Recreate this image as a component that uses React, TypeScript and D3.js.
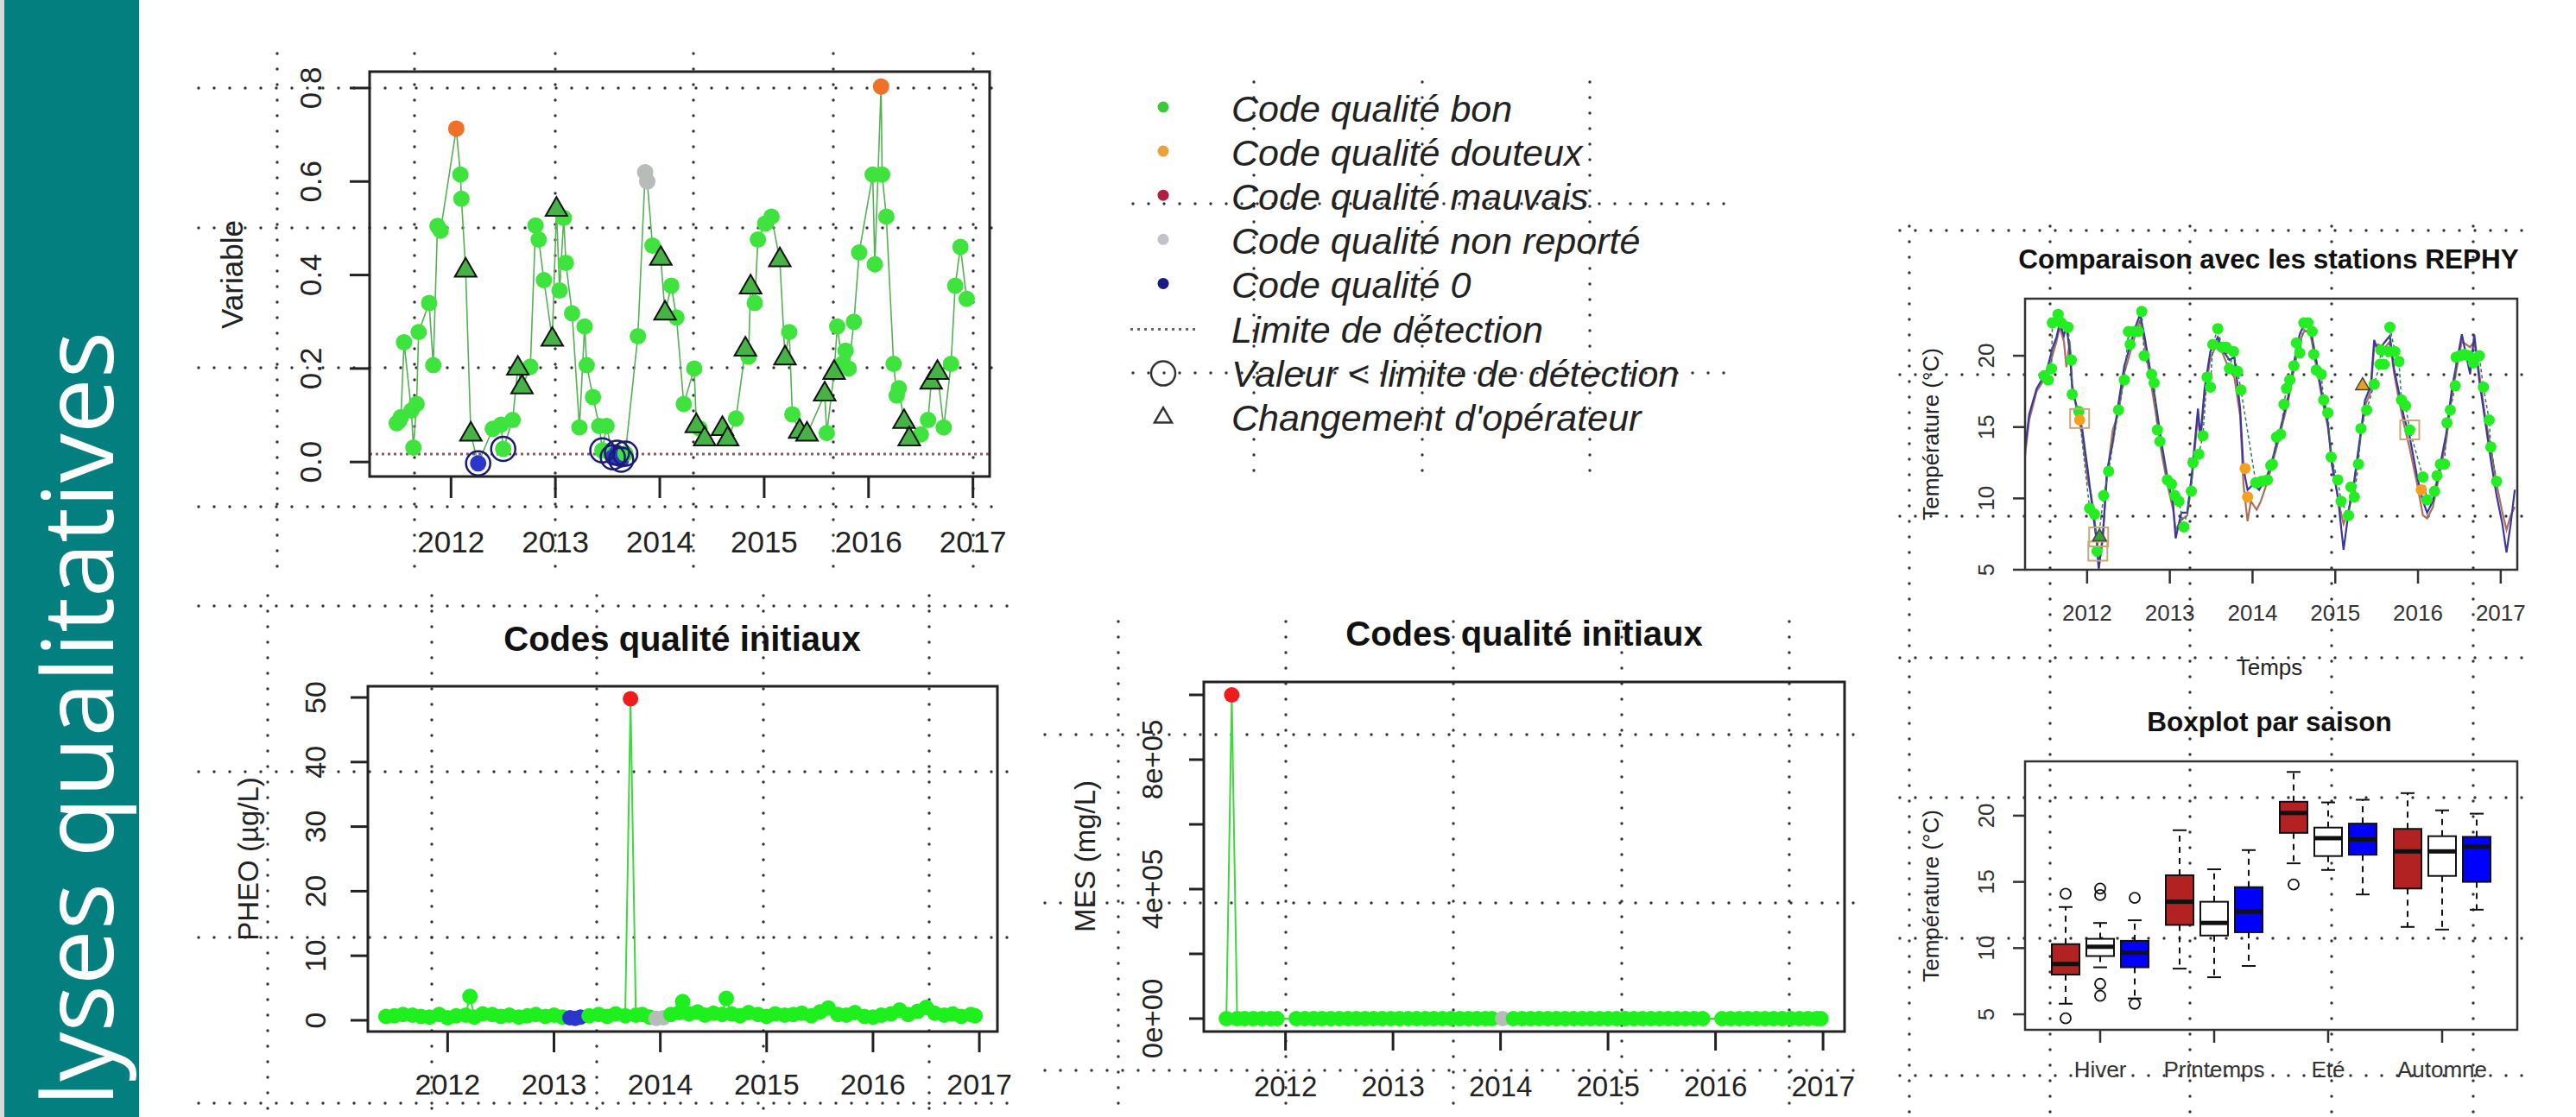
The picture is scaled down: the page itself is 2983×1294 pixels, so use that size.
import React from 'react';
import * as d3 from 'd3';

const FONT = '"Liberation Sans", Arial, Helvetica, sans-serif';
const INK = '#222';

// couleurs des codes qualité
const codeColors: Record<string, string> = {
  bon: '#3ee33e',
  douteux: '#f07028',
  mauvais: '#ee1c1c',
  nonrep: '#b8bcb8',
  zero: '#2a36cc',
};

const yearTicks = [2012, 2013, 2014, 2015, 2016, 2017];

// ---------- Variable (haut gauche) ----------
const varTicks = [0, 0.2, 0.4, 0.6, 0.8];
const detectionLimit = 0.017;
// [année, valeur, code, marqueur]  marqueur: '' | 'tri' (changement d'opérateur) | 'lim' (< limite)
const varPoints: [number, number, string, string][] = [
  [2011.48, 0.083, 'bon', ''], [2011.5, 0.087, 'bon', ''], [2011.52, 0.096, 'bon', ''],
  [2011.55, 0.256, 'bon', ''], [2011.62, 0.11, 'bon', ''], [2011.64, 0.031, 'bon', ''],
  [2011.67, 0.124, 'bon', ''], [2011.69, 0.278, 'bon', ''], [2011.79, 0.34, 'bon', ''],
  [2011.83, 0.207, 'bon', ''], [2011.87, 0.505, 'bon', ''], [2011.9, 0.495, 'bon', ''],
  [2012.05, 0.713, 'douteux', ''], [2012.09, 0.615, 'bon', ''], [2012.1, 0.563, 'bon', ''],
  [2012.14, 0.41, 'bon', 'tri'], [2012.19, 0.059, 'bon', 'tri'], [2012.26, -0.003, 'zero', 'lim'],
  [2012.4, 0.071, 'bon', ''], [2012.48, 0.08, 'bon', ''], [2012.5, 0.028, 'bon', 'lim'],
  [2012.59, 0.09, 'bon', ''], [2012.64, 0.2, 'bon', 'tri'], [2012.68, 0.16, 'bon', 'tri'],
  [2012.76, 0.204, 'bon', ''], [2012.81, 0.506, 'bon', ''], [2012.84, 0.476, 'bon', ''],
  [2012.89, 0.389, 'bon', ''], [2012.97, 0.262, 'bon', 'tri'], [2013.01, 0.54, 'bon', 'tri'],
  [2013.04, 0.367, 'bon', ''], [2013.08, 0.522, 'bon', ''], [2013.1, 0.426, 'bon', ''],
  [2013.16, 0.318, 'bon', ''], [2013.23, 0.074, 'bon', ''], [2013.28, 0.29, 'bon', ''],
  [2013.3, 0.207, 'bon', ''], [2013.36, 0.139, 'bon', ''], [2013.42, 0.077, 'bon', ''],
  [2013.45, 0.025, 'bon', 'lim'], [2013.49, 0.077, 'bon', ''], [2013.55, 0.01, 'zero', 'lim'],
  [2013.59, 0.02, 'zero', 'lim'], [2013.63, 0.005, 'zero', 'lim'], [2013.67, 0.018, 'bon', 'lim'],
  [2013.79, 0.269, 'bon', ''], [2013.86, 0.62, 'nonrep', ''], [2013.88, 0.6, 'nonrep', ''],
  [2013.93, 0.463, 'bon', ''], [2014.01, 0.435, 'bon', 'tri'], [2014.05, 0.318, 'bon', 'tri'],
  [2014.11, 0.377, 'bon', ''], [2014.16, 0.309, 'bon', ''], [2014.23, 0.124, 'bon', ''],
  [2014.33, 0.2, 'bon', ''], [2014.35, 0.077, 'bon', 'tri'], [2014.38, 0.072, 'bon', ''],
  [2014.43, 0.049, 'bon', 'tri'], [2014.6, 0.071, 'bon', 'tri'], [2014.65, 0.049, 'bon', 'tri'],
  [2014.73, 0.093, 'bon', ''], [2014.82, 0.241, 'bon', 'tri'], [2014.85, 0.225, 'bon', ''],
  [2014.87, 0.374, 'bon', 'tri'], [2014.91, 0.34, 'bon', ''], [2014.94, 0.476, 'bon', ''],
  [2015.01, 0.51, 'bon', ''], [2015.07, 0.525, 'bon', ''], [2015.15, 0.432, 'bon', 'tri'],
  [2015.2, 0.222, 'bon', 'tri'], [2015.24, 0.278, 'bon', ''], [2015.27, 0.102, 'bon', ''],
  [2015.34, 0.065, 'bon', 'tri'], [2015.41, 0.059, 'bon', 'tri'], [2015.58, 0.145, 'bon', 'tri'],
  [2015.6, 0.062, 'bon', ''], [2015.67, 0.191, 'bon', 'tri'], [2015.7, 0.29, 'bon', ''],
  [2015.75, 0.21, 'bon', ''], [2015.78, 0.238, 'bon', ''], [2015.81, 0.2, 'bon', ''],
  [2015.86, 0.3, 'bon', ''], [2015.91, 0.448, 'bon', ''], [2016.04, 0.615, 'bon', ''],
  [2016.06, 0.423, 'bon', ''], [2016.12, 0.803, 'douteux', ''], [2016.13, 0.615, 'bon', ''],
  [2016.17, 0.525, 'bon', ''], [2016.24, 0.21, 'bon', ''], [2016.27, 0.142, 'bon', ''],
  [2016.29, 0.158, 'bon', ''], [2016.34, 0.086, 'bon', 'tri'], [2016.39, 0.049, 'bon', 'tri'],
  [2016.5, 0.059, 'bon', ''], [2016.57, 0.09, 'bon', ''], [2016.6, 0.17, 'bon', 'tri'],
  [2016.66, 0.191, 'bon', 'tri'], [2016.72, 0.074, 'bon', ''], [2016.79, 0.21, 'bon', ''],
  [2016.83, 0.377, 'bon', ''], [2016.88, 0.46, 'bon', ''], [2016.94, 0.349, 'bon', ''],
];

// ---------- Légende ----------
const legendLabels = [
  'Code qualité bon',
  'Code qualité douteux',
  'Code qualité mauvais',
  'Code qualité non reporté',
  'Code qualité 0',
  'Limite de détection',
  'Valeur < limite de détection',
  "Changement d'opérateur",
];
const legendColors = ['#3cc83c', '#e8a23a', '#b22040', '#c4c0cc', '#1a1a80'];

// ---------- PHEO ----------
const pheoTicks = [0, 10, 20, 30, 40, 50];
const pheoPoints: [number, number, string][] = [
  [2011.42, 0.6, 'bon'], [2011.5, 0.7, 'bon'], [2011.58, 0.9, 'bon'], [2011.67, 0.8, 'bon'],
  [2011.75, 0.6, 'bon'], [2011.83, 0.5, 'bon'], [2011.92, 0.9, 'bon'], [2012.0, 0.4, 'bon'],
  [2012.08, 0.7, 'bon'], [2012.17, 0.8, 'bon'], [2012.21, 3.7, 'bon'], [2012.25, 0.5, 'bon'],
  [2012.33, 1.0, 'bon'], [2012.42, 0.9, 'bon'], [2012.5, 0.6, 'bon'], [2012.58, 0.8, 'bon'],
  [2012.67, 0.5, 'bon'], [2012.75, 0.7, 'bon'], [2012.83, 0.9, 'bon'], [2012.92, 0.6, 'bon'],
  [2013.0, 0.8, 'bon'], [2013.08, 0.5, 'bon'], [2013.15, 0.4, 'zero'], [2013.2, 0.3, 'zero'],
  [2013.25, 0.5, 'zero'], [2013.33, 0.7, 'bon'], [2013.42, 0.9, 'bon'], [2013.5, 0.6, 'bon'],
  [2013.58, 1.0, 'bon'], [2013.67, 0.7, 'bon'], [2013.72, 49.8, 'mauvais'], [2013.77, 0.8, 'bon'],
  [2013.83, 0.9, 'bon'], [2013.9, 0.5, 'bon'], [2013.96, 0.3, 'nonrep'], [2014.03, 0.4, 'nonrep'],
  [2014.1, 0.9, 'bon'], [2014.18, 1.2, 'bon'], [2014.21, 2.9, 'bon'], [2014.27, 1.0, 'bon'],
  [2014.35, 1.3, 'bon'], [2014.42, 0.8, 'bon'], [2014.5, 1.1, 'bon'], [2014.58, 0.9, 'bon'],
  [2014.62, 3.4, 'bon'], [2014.67, 1.0, 'bon'], [2014.75, 0.7, 'bon'], [2014.83, 1.2, 'bon'],
  [2014.92, 0.9, 'bon'], [2015.0, 0.6, 'bon'], [2015.08, 1.0, 'bon'], [2015.17, 0.8, 'bon'],
  [2015.25, 0.9, 'bon'], [2015.33, 1.1, 'bon'], [2015.42, 0.7, 'bon'], [2015.5, 1.3, 'bon'],
  [2015.58, 1.9, 'bon'], [2015.67, 0.9, 'bon'], [2015.75, 0.8, 'bon'], [2015.83, 1.2, 'bon'],
  [2015.92, 0.6, 'bon'], [2016.0, 0.5, 'bon'], [2016.08, 0.8, 'bon'], [2016.17, 1.0, 'bon'],
  [2016.25, 1.6, 'bon'], [2016.33, 0.9, 'bon'], [2016.42, 1.4, 'bon'], [2016.5, 2.0, 'bon'],
  [2016.58, 1.1, 'bon'], [2016.67, 0.8, 'bon'], [2016.75, 1.0, 'bon'], [2016.83, 0.6, 'bon'],
  [2016.92, 0.9, 'bon'], [2016.96, 0.7, 'bon'],
];

// ---------- MES ----------
const mesTicks = [0, 200000, 400000, 600000, 800000, 1000000];
const mesTickLabels = ['0e+00', '', '4e+05', '', '8e+05', ''];
const mesPoints: [number, number, string][] = [
  [2011.45, 18, 'bon'], [2011.5, 1000000, 'mauvais'], [2011.55, 22, 'bon'], [2011.62, 15, 'bon'],
  [2011.7, 30, 'bon'], [2011.78, 12, 'bon'], [2011.86, 25, 'bon'], [2011.92, 9, 'bon'],
  [2012.1, 14, 'bon'], [2012.18, 20, 'bon'], [2012.26, 11, 'bon'], [2012.34, 35, 'bon'],
  [2012.42, 16, 'bon'], [2012.5, 8, 'bon'], [2012.58, 21, 'bon'], [2012.66, 13, 'bon'],
  [2012.74, 27, 'bon'], [2012.82, 10, 'bon'], [2012.9, 19, 'bon'], [2012.98, 24, 'bon'],
  [2013.06, 12, 'bon'], [2013.14, 17, 'bon'], [2013.22, 9, 'bon'], [2013.3, 28, 'bon'],
  [2013.38, 15, 'bon'], [2013.46, 22, 'bon'], [2013.54, 11, 'bon'], [2013.62, 18, 'bon'],
  [2013.7, 26, 'bon'], [2013.78, 14, 'bon'], [2013.86, 20, 'bon'], [2013.92, 10, 'bon'],
  [2014.02, 12, 'nonrep'], [2014.12, 16, 'bon'], [2014.2, 23, 'bon'], [2014.28, 11, 'bon'],
  [2014.36, 19, 'bon'], [2014.44, 30, 'bon'], [2014.52, 13, 'bon'], [2014.6, 8, 'bon'],
  [2014.68, 21, 'bon'], [2014.76, 17, 'bon'], [2014.84, 12, 'bon'], [2014.92, 25, 'bon'],
  [2015.0, 14, 'bon'], [2015.08, 9, 'bon'], [2015.16, 18, 'bon'], [2015.24, 22, 'bon'],
  [2015.32, 11, 'bon'], [2015.4, 16, 'bon'], [2015.48, 27, 'bon'], [2015.56, 13, 'bon'],
  [2015.64, 20, 'bon'], [2015.72, 10, 'bon'], [2015.8, 24, 'bon'], [2015.88, 15, 'bon'],
  [2016.06, 12, 'bon'], [2016.14, 19, 'bon'], [2016.22, 8, 'bon'], [2016.3, 23, 'bon'],
  [2016.38, 14, 'bon'], [2016.46, 17, 'bon'], [2016.54, 29, 'bon'], [2016.62, 11, 'bon'],
  [2016.7, 20, 'bon'], [2016.78, 13, 'bon'], [2016.86, 18, 'bon'], [2016.94, 10, 'bon'],
  [2016.98, 16, 'bon'],
];

// ---------- Comparaison REPHY ----------
const tempTicks = [5, 10, 15, 20];
const rephyBlue: [number, number][] = [
  [2011.25, 13.5], [2011.3, 15.9], [2011.39, 17.7], [2011.51, 18.9], [2011.58, 20.5], [2011.63, 21.3],
  [2011.67, 22.3], [2011.72, 21.4], [2011.75, 22.1], [2011.79, 20.3], [2011.82, 17.7], [2011.88, 16.3],
  [2011.94, 14.9], [2012.01, 11.9], [2012.07, 9.0], [2012.12, 6.8], [2012.14, 5.1], [2012.19, 7.2],
  [2012.24, 11.9], [2012.31, 13.9], [2012.38, 16.7], [2012.45, 19.3], [2012.52, 20.7], [2012.59, 22.1],
  [2012.64, 22.9], [2012.69, 21.5], [2012.76, 19.1], [2012.83, 16.7], [2012.9, 13.9], [2012.97, 11.5],
  [2013.04, 9.6], [2013.07, 7.2], [2013.14, 9.0], [2013.21, 9.0], [2013.27, 11.9], [2013.34, 16.3],
  [2013.37, 14.3], [2013.42, 17.7], [2013.49, 20.3], [2013.58, 21.3], [2013.65, 20.3], [2013.72, 19.7],
  [2013.78, 19.9], [2013.85, 16.3], [2013.89, 12.1], [2013.94, 10.6], [2014.01, 11.0], [2014.08, 10.6],
  [2014.17, 11.5], [2014.22, 12.3], [2014.32, 14.5], [2014.43, 17.1], [2014.5, 19.5], [2014.57, 21.5],
  [2014.63, 22.3], [2014.7, 21.9], [2014.77, 19.7], [2014.84, 17.3], [2014.91, 15.3], [2014.96, 12.3],
  [2015.03, 10.2], [2015.1, 6.4], [2015.16, 9.0], [2015.23, 11.3], [2015.3, 14.3], [2015.36, 16.9],
  [2015.43, 17.9], [2015.47, 21.1], [2015.52, 20.3], [2015.59, 20.9], [2015.66, 21.4], [2015.71, 19.1],
  [2015.76, 17.7], [2015.83, 15.7], [2015.9, 14.3], [2015.99, 11.5], [2016.06, 9.8], [2016.11, 9.0],
  [2016.18, 9.8], [2016.25, 11.8], [2016.34, 14.5], [2016.41, 17.7], [2016.48, 19.9], [2016.53, 21.5],
  [2016.58, 20.1], [2016.63, 18.7], [2016.68, 21.5], [2016.74, 18.3], [2016.81, 15.5], [2016.88, 12.7],
  [2016.95, 10.2], [2017.02, 8.2], [2017.07, 6.2], [2017.12, 8.2], [2017.17, 10.6],
];
const rephyBrown: [number, number][] = [
  [2011.25, 13.0], [2011.3, 15.5], [2011.39, 17.5], [2011.51, 18.6], [2011.58, 20.0], [2011.63, 21.0],
  [2011.67, 22.0], [2011.72, 21.0], [2011.75, 19.2], [2011.79, 21.0], [2011.82, 18.0], [2011.88, 16.0],
  [2011.94, 14.5], [2012.01, 11.2], [2012.04, 10.5], [2012.07, 9.5], [2012.12, 7.0], [2012.14, 5.0],
  [2012.19, 7.5], [2012.24, 11.5], [2012.31, 14.8], [2012.38, 16.0], [2012.45, 18.8], [2012.52, 20.2],
  [2012.59, 21.6], [2012.64, 22.5], [2012.69, 21.0], [2012.76, 18.5], [2012.83, 16.0], [2012.9, 13.2],
  [2012.97, 11.0], [2013.04, 9.2], [2013.07, 7.8], [2013.14, 8.5], [2013.21, 8.8], [2013.27, 11.5],
  [2013.34, 15.8], [2013.37, 14.0], [2013.42, 17.2], [2013.49, 19.8], [2013.58, 21.0], [2013.65, 20.0],
  [2013.72, 19.0], [2013.78, 18.5], [2013.85, 15.8], [2013.89, 11.0], [2013.94, 8.4], [2013.98, 9.8],
  [2014.05, 9.2], [2014.1, 9.8], [2014.17, 11.0], [2014.22, 12.0], [2014.32, 14.2], [2014.43, 16.8],
  [2014.5, 19.0], [2014.57, 21.0], [2014.63, 21.8], [2014.7, 21.5], [2014.77, 19.3], [2014.84, 17.0],
  [2014.91, 15.0], [2014.96, 12.8], [2015.03, 10.0], [2015.1, 8.2], [2015.16, 9.2], [2015.23, 11.0],
  [2015.3, 14.0], [2015.36, 16.5], [2015.43, 17.5], [2015.47, 20.6], [2015.52, 20.8], [2015.59, 20.5],
  [2015.66, 21.0], [2015.71, 18.8], [2015.76, 17.2], [2015.83, 15.2], [2015.9, 13.5], [2015.99, 11.0],
  [2016.06, 8.8], [2016.11, 8.6], [2016.18, 9.4], [2016.25, 11.4], [2016.34, 14.0], [2016.41, 17.2],
  [2016.48, 19.5], [2016.53, 21.0], [2016.58, 20.8], [2016.63, 20.6], [2016.68, 21.0], [2016.74, 18.8],
  [2016.81, 15.8], [2016.88, 13.5], [2016.95, 11.0], [2017.02, 9.0], [2017.07, 7.8], [2017.12, 8.8],
  [2017.17, 9.4],
];
const stationGood: [number, number][] = [
  [2011.48, 18.6], [2011.53, 18.3], [2011.57, 19.1], [2011.58, 22.3], [2011.65, 22.9], [2011.69, 22.3],
  [2011.77, 22.0], [2011.81, 19.7], [2011.82, 17.3], [2011.9, 16.1], [2012.03, 9.3], [2012.09, 8.9],
  [2012.12, 6.3], [2012.2, 10.2], [2012.26, 11.9], [2012.38, 16.2], [2012.45, 18.3], [2012.5, 21.7],
  [2012.52, 20.8], [2012.57, 21.7], [2012.62, 21.7], [2012.66, 23.1], [2012.69, 20.0], [2012.78, 18.7],
  [2012.81, 18.1], [2012.85, 14.8], [2012.88, 14.0], [2012.97, 11.3], [2013.02, 11.0], [2013.06, 10.2],
  [2013.11, 9.8], [2013.17, 8.0], [2013.26, 10.5], [2013.28, 12.5], [2013.35, 13.1], [2013.4, 14.4],
  [2013.45, 18.5], [2013.49, 17.8], [2013.52, 20.8], [2013.58, 21.9], [2013.63, 20.6], [2013.68, 20.6],
  [2013.72, 19.1], [2013.77, 20.3], [2013.82, 18.9], [2013.86, 17.6], [2014.04, 11.1], [2014.11, 11.2],
  [2014.18, 11.3], [2014.22, 12.3], [2014.24, 12.4], [2014.29, 14.3], [2014.34, 14.5], [2014.38, 16.6],
  [2014.41, 17.7], [2014.45, 18.3], [2014.5, 19.3], [2014.53, 20.9], [2014.57, 20.2], [2014.62, 22.3],
  [2014.67, 22.3], [2014.72, 21.7], [2014.74, 20.1], [2014.77, 19.0], [2014.83, 18.7], [2014.86, 16.9],
  [2014.91, 16.0], [2014.95, 12.9], [2015.03, 11.3], [2015.07, 9.8], [2015.16, 8.8], [2015.19, 10.8],
  [2015.23, 10.1], [2015.28, 12.4], [2015.31, 14.9], [2015.38, 16.2], [2015.47, 18.0], [2015.54, 19.4],
  [2015.55, 20.4], [2015.59, 19.4], [2015.65, 20.3], [2015.66, 22.0], [2015.72, 20.3], [2015.77, 19.6],
  [2015.8, 16.9], [2015.85, 16.5], [2015.9, 14.8], [2016.06, 11.5], [2016.11, 9.9], [2016.2, 10.5],
  [2016.23, 11.6], [2016.27, 12.4], [2016.32, 12.4], [2016.35, 15.3], [2016.39, 16.2], [2016.45, 17.9],
  [2016.46, 19.9], [2016.51, 20.0], [2016.56, 20.1], [2016.61, 20.0], [2016.67, 19.5], [2016.68, 19.8],
  [2016.74, 20.0], [2016.79, 17.8], [2016.86, 15.5], [2016.88, 13.6], [2016.95, 11.2],
];
const stationDoubtful: [number, number][] = [[2011.91, 15.5], [2013.91, 12.1], [2013.94, 10.1], [2016.04, 10.6]];
const stationSquares: [number, number][] = [[2011.91, 15.6], [2012.14, 7.3], [2012.13, 6.3], [2015.9, 14.8]];
const stationTriangles: [number, number, string][] = [[2012.15, 7.3, 'bon'], [2015.33, 17.9, 'douteux']];

// ---------- Boxplot par saison ----------
const seasons = ['Hiver', 'Printemps', 'Eté', 'Automne'];
const boxColors = ['#b22222', '#ffffff', '#0000ff'];
// [min, q1, médiane, q3, max] par saison puis par série
const boxStats: number[][][] = [
  [[5.8, 8.0, 8.8, 10.3, 13.1], [8.55, 9.4, 10.1, 10.7, 11.9], [6.2, 8.55, 9.65, 10.55, 12.1]],
  [[8.45, 11.75, 13.5, 15.5, 18.9], [7.8, 10.95, 11.9, 13.5, 15.95], [8.65, 11.2, 12.75, 14.6, 17.4]],
  [[16.4, 18.7, 20.2, 21.05, 23.3], [15.9, 16.95, 18.3, 19.1, 21.0], [14.05, 17.05, 18.2, 19.4, 21.2]],
  [[11.6, 14.5, 17.3, 19.0, 21.7], [11.4, 15.45, 17.3, 18.45, 20.4], [12.9, 15.0, 17.65, 18.4, 20.15]],
];
const boxOutliers: number[][][] = [
  [[14.1, 4.7], [14.5, 14.0, 7.3, 6.4], [13.8, 5.8]],
  [[], [], []],
  [[14.8], [], []],
  [[], [], []],
];

// ---------------------------------------------------------------
type Scale = d3.ScaleLinear<number, number>;

function DotLines({ xs, ys, x0, x1, y0, y1 }: { xs: number[]; ys: number[]; x0: number; x1: number; y0: number; y1: number }) {
  const st = { stroke: '#333', strokeWidth: 3.4, strokeDasharray: '0 18', strokeLinecap: 'round' as const };
  return (
    <g>
      {xs.map((x, i) => <line key={'v' + i} x1={x} x2={x} y1={y0} y2={y1} {...st} />)}
      {ys.map((y, i) => <line key={'h' + i} x1={x0} x2={x1} y1={y} y2={y} {...st} />)}
    </g>
  );
}

type AxesProps = {
  x: Scale; y: Scale;
  xTicks: number[]; xLabels: string[];
  yTicks: number[]; yLabels: string[];
  tickX: number; tickY: number; xOff: number; yOff: number;
  fs: number; sw: number; color?: string;
};
function RAxes(p: AxesProps) {
  const [bx0, bx1] = p.x.range();
  const [by1, by0] = p.y.range();
  const c = p.color || INK;
  return (
    <g fontFamily={FONT} fill={c}>
      <rect x={bx0} y={by0} width={bx1 - bx0} height={by1 - by0} fill="none" stroke={c} strokeWidth={p.sw} />
      {p.xTicks.map((t, i) => (
        <g key={'x' + i}>
          <line x1={p.x(t)} x2={p.x(t)} y1={by1} y2={by1 + p.tickX} stroke={c} strokeWidth={p.sw} />
          <text x={p.x(t)} y={by1 + p.xOff} textAnchor="middle" fontSize={p.fs}>{p.xLabels[i]}</text>
        </g>
      ))}
      {p.yTicks.map((t, i) => (
        <g key={'y' + i}>
          <line x1={bx0 - p.tickY} x2={bx0} y1={p.y(t)} y2={p.y(t)} stroke={c} strokeWidth={p.sw} />
          {p.yLabels[i] ? (
            <text transform={`translate(${bx0 - p.yOff},${p.y(t)}) rotate(-90)`} textAnchor="middle" fontSize={p.fs}>
              {p.yLabels[i]}
            </text>
          ) : null}
        </g>
      ))}
    </g>
  );
}

function triPath(cx: number, cy: number, s: number) {
  const h = (s * Math.sqrt(3)) / 2;
  return `M${cx},${cy - (2 * h) / 3}L${cx - s / 2},${cy + h / 3}L${cx + s / 2},${cy + h / 3}Z`;
}

function VLabel({ x, y, text, fs }: { x: number; y: number; text: string; fs: number }) {
  return (
    <text transform={`translate(${x},${y}) rotate(-90)`} textAnchor="middle" fontFamily={FONT} fontSize={fs} fill={INK}>
      {text}
    </text>
  );
}

function Title({ x, y, text, fs }: { x: number; y: number; text: string; fs: number }) {
  return (
    <text x={x} y={y} textAnchor="middle" fontFamily={FONT} fontWeight="bold" fontSize={fs} fill="#111">
      {text}
    </text>
  );
}

export default function App() {
  const yearLabels = yearTicks.map(String);

  // --- Variable ---
  const ax = d3.scaleLinear().domain([2011.22, 2017.16]).range([428, 1146]);
  const ay = d3.scaleLinear().domain([-0.031, 0.835]).range([552, 83]);
  const aLine = d3.line<[number, number, string, string]>().x(d => ax(d[0])).y(d => ay(d[1]));

  // --- PHEO ---
  const ex = d3.scaleLinear().domain([2011.25, 2017.17]).range([426, 1155]);
  const ey = d3.scaleLinear().domain([-1.74, 51.74]).range([1195, 795]);
  const eLine = d3.line<[number, number, string]>().x(d => ex(d[0])).y(d => ey(d[1]));

  // --- MES ---
  const fx = d3.scaleLinear().domain([2011.24, 2017.2]).range([1394, 2136]);
  const fy = d3.scaleLinear().domain([-40000, 1040000]).range([1195, 790]);
  const fLine = d3.line<[number, number, string]>().x(d => fx(d[0])).y(d => fy(d[1]));

  // --- REPHY ---
  const cx = d3.scaleLinear().domain([2011.25, 2017.2]).range([2345, 2915]);
  const cy = d3.scaleLinear().domain([5, 24]).range([660, 346]);
  const cLine = d3.line<[number, number]>().x(d => cx(d[0])).y(d => cy(d[1]));

  // --- Boxplot ---
  const groupStep = 3.3;
  const dx = d3.scaleLinear().domain([-1.175, 13.075]).range([2345, 2915]);
  const dy = d3.scaleLinear().domain([3.83, 24.1]).range([1193, 882]);
  const halfBox = 16;

  return (
    <svg width={2983} height={1294} style={{ position: 'absolute', left: 0, top: 0, background: '#fff' }}>
      <rect x={0} y={0} width={2983} height={1294} fill="#fff" />

      {/* bandeau */}
      <rect x={0} y={0} width={5} height={1294} fill="#d6dada" />
      <rect x={5} y={0} width={156} height={1294} fill="#047f80" />
      <text transform="translate(131,384) rotate(-90)" textAnchor="end" fontFamily='"Open Sans", Lato, sans-serif'
        fontSize={114} fill="#fff">lyses qualitatives</text>

      {/* quadrillages */}
      <DotLines xs={[321, 480, 643, 803, 965, 1127]} ys={[102, 264, 426, 587]} x0={230} x1={1165} y0={62} y1={660} />
      <DotLines xs={[1452, 1647, 1841]} ys={[236, 432]} x0={1312} x1={2000} y0={95} y1={556} />
      <DotLines xs={[2211, 2374, 2536, 2700, 2864]} ys={[267, 434, 598, 762, 924, 1087, 1246]} x0={2200} x1={2938} y0={262} y1={1294} />
      <DotLines xs={[310, 500, 691, 884, 1076]} ys={[702, 894, 1086, 1278]} x0={230} x1={1178} y0={690} y1={1294} />
      <DotLines xs={[1295, 1489, 1683, 1878, 2072]} ys={[851, 1046, 1240]} x0={1210} x1={2155} y0={720} y1={1294} />

      {/* ---------- Variable ---------- */}
      <g>
        <line x1={428} x2={1146} y1={ay(detectionLimit)} y2={ay(detectionLimit)} stroke="#8a5a6a" strokeWidth={3}
          strokeDasharray="3 4" />
        <path d={aLine(varPoints) || ''} fill="none" stroke="#55b055" strokeWidth={1.6} />
        {varPoints.filter(d => d[3] !== 'tri').map((d, i) => (
          <circle key={'ap' + i} cx={ax(d[0])} cy={ay(d[1])} r={9.5} fill={codeColors[d[2]]} />
        ))}
        {varPoints.filter(d => d[3] === 'tri').map((d, i) => (
          <path key={'at' + i} d={triPath(ax(d[0]), ay(d[1]), 25)} fill="#47b347" stroke="#111" strokeWidth={2} />
        ))}
        {varPoints.filter(d => d[3] === 'lim').map((d, i) => (
          <circle key={'al' + i} cx={ax(d[0])} cy={ay(d[1])} r={14} fill="none" stroke="#1c1c6e" strokeWidth={2.5} />
        ))}
        <RAxes x={ax} y={ay} xTicks={yearTicks} xLabels={yearLabels} yTicks={varTicks}
          yLabels={varTicks.map(v => v.toFixed(1))} tickX={25} tickY={23} xOff={88} yOff={56} fs={35} sw={3} />
        <VLabel x={281} y={318} text="Variable" fs={35} />
      </g>

      {/* ---------- Légende ---------- */}
      <g fontFamily={FONT}>
        {legendLabels.map((lab, i) => {
          const y = 126 + i * 51.1;
          let sym: React.ReactNode = null;
          if (i < 5) sym = <circle cx={1347} cy={y - 2} r={6.5} fill={legendColors[i]} />;
          else if (i === 5) sym = <line x1={1309} x2={1386} y1={y} y2={y} stroke="#666" strokeWidth={3} strokeDasharray="3 5" />;
          else if (i === 6) sym = <circle cx={1347} cy={y} r={14} fill="none" stroke="#333" strokeWidth={2.5} />;
          else sym = <path d={triPath(1347, y, 20)} fill="none" stroke="#333" strokeWidth={2.5} />;
          return (
            <g key={'lg' + i}>
              {sym}
              <text x={1426} y={y + 15} fontSize={43} fontStyle="italic" fill={INK}>{lab}</text>
            </g>
          );
        })}
      </g>

      {/* ---------- PHEO ---------- */}
      <g>
        <path d={eLine(pheoPoints) || ''} fill="none" stroke="#3dd83d" strokeWidth={2} />
        {pheoPoints.map((d, i) => (
          <circle key={'ep' + i} cx={ex(d[0])} cy={ey(d[1])} r={9} fill={d[2] === 'bon' ? '#1ef01e' : codeColors[d[2]]} />
        ))}
        <RAxes x={ex} y={ey} xTicks={yearTicks} xLabels={yearLabels} yTicks={pheoTicks}
          yLabels={pheoTicks.map(String)} tickX={24} tickY={20} xOff={73} yOff={49} fs={34} sw={3} />
        <VLabel x={299} y={995} text="PHEO (µg/L)" fs={33} />
        <Title x={790} y={754} text="Codes qualité initiaux" fs={40} />
      </g>

      {/* ---------- MES ---------- */}
      <g>
        <path d={fLine(mesPoints) || ''} fill="none" stroke="#3dd83d" strokeWidth={2} />
        {mesPoints.map((d, i) => (
          <circle key={'fp' + i} cx={fx(d[0])} cy={fy(d[1])} r={9} fill={d[2] === 'bon' ? '#1ef01e' : codeColors[d[2]]} />
        ))}
        <RAxes x={fx} y={fy} xTicks={yearTicks} xLabels={yearLabels} yTicks={mesTicks}
          yLabels={mesTickLabels} tickX={22} tickY={17} xOff={75} yOff={48} fs={33} sw={3} />
        <VLabel x={1268} y={992} text="MES (mg/L)" fs={33} />
        <Title x={1765} y={748} text="Codes qualité initiaux" fs={40} />
      </g>

      {/* ---------- Comparaison REPHY ---------- */}
      <g>
        <defs>
          <clipPath id="clipC"><rect x={2345} y={346} width={570} height={314} /></clipPath>
        </defs>
        <g clipPath="url(#clipC)">
          <path d={cLine(rephyBrown) || ''} fill="none" stroke="#a8705a" strokeWidth={2.2} />
          <path d={cLine(rephyBlue) || ''} fill="none" stroke="#3c36a0" strokeWidth={2.2} />
          <path d={cLine(stationGood) || ''} fill="none" stroke="#2e7d4f" strokeWidth={1.5} strokeDasharray="4 3" />
        </g>
        {stationGood.map((d, i) => (
          <circle key={'cg' + i} cx={cx(d[0])} cy={cy(d[1])} r={6.5} fill="#22ee22" />
        ))}
        {stationDoubtful.map((d, i) => (
          <circle key={'cd' + i} cx={cx(d[0])} cy={cy(d[1])} r={6.5} fill="#f5a020" />
        ))}
        {stationSquares.map((d, i) => (
          <rect key={'cs' + i} x={cx(d[0]) - 11} y={cy(d[1]) - 11} width={22} height={22} fill="none" stroke="#c8a878" strokeWidth={2} />
        ))}
        {stationTriangles.map((d, i) => (
          <path key={'ct' + i} d={triPath(cx(d[0]), cy(d[1]), 16)} fill={d[2] === 'bon' ? '#3aa03a' : '#e8a020'} stroke="#444" strokeWidth={1.5} />
        ))}
        <RAxes x={cx} y={cy} xTicks={yearTicks} xLabels={yearLabels} yTicks={tempTicks}
          yLabels={tempTicks.map(String)} tickX={16} tickY={14} xOff={59} yOff={36} fs={26} sw={2.5} color="#333" />
        <VLabel x={2245} y={503} text="Température (°C)" fs={26} />
        <text x={2628} y={782} textAnchor="middle" fontFamily={FONT} fontSize={26} fill={INK}>Temps</text>
        <Title x={2627} y={311} text="Comparaison avec les stations REPHY" fs={31.5} />
      </g>

      {/* ---------- Boxplot ---------- */}
      <g>
        {boxStats.map((grp, g) =>
          grp.map((s, k) => {
            const xc = dx(g * groupStep + k);
            return (
              <g key={'b' + g + '-' + k}>
                <line x1={xc} x2={xc} y1={dy(s[3])} y2={dy(s[4])} stroke="#111" strokeWidth={2} strokeDasharray="7 6" />
                <line x1={xc} x2={xc} y1={dy(s[1])} y2={dy(s[0])} stroke="#111" strokeWidth={2} strokeDasharray="7 6" />
                <line x1={xc - 8} x2={xc + 8} y1={dy(s[4])} y2={dy(s[4])} stroke="#111" strokeWidth={2} />
                <line x1={xc - 8} x2={xc + 8} y1={dy(s[0])} y2={dy(s[0])} stroke="#111" strokeWidth={2} />
                <rect x={xc - halfBox} y={dy(s[3])} width={halfBox * 2} height={dy(s[1]) - dy(s[3])}
                  fill={boxColors[k]} stroke="#111" strokeWidth={2} />
                <line x1={xc - halfBox} x2={xc + halfBox} y1={dy(s[2])} y2={dy(s[2])} stroke="#111" strokeWidth={5} />
                {boxOutliers[g][k].map((o, j) => (
                  <circle key={'o' + j} cx={xc} cy={dy(o)} r={6} fill="none" stroke="#111" strokeWidth={1.8} />
                ))}
              </g>
            );
          })
        )}
        <RAxes x={dx} y={dy} xTicks={seasons.map((_, g) => g * groupStep + 1)} xLabels={seasons}
          yTicks={tempTicks} yLabels={tempTicks.map(String)} tickX={15} tickY={14} xOff={55} yOff={36} fs={26}
          sw={2.5} color="#333" />
        <VLabel x={2245} y={1038} text="Température (°C)" fs={26} />
        <Title x={2628} y={847} text="Boxplot par saison" fs={31.5} />
      </g>
    </svg>
  );
}
